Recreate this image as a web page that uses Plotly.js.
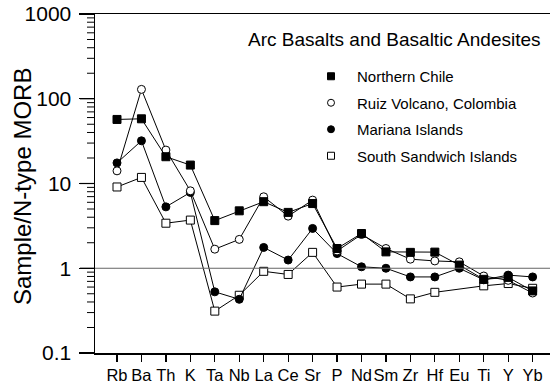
<!DOCTYPE html>
<html>
<head>
<meta charset="utf-8">
<script src="https://cdn.plot.ly/plotly-3.0.1.min.js"></script>
<style>
  html, body { margin: 0; padding: 0; background: #fff; }
  #chart { width: 550px; height: 384px; }
</style>
</head>
<body>
<div id="chart"></div>
<script>
// Elements (x-axis categories)
const elements = ['Rb','Ba','Th','K','Ta','Nb','La','Ce','Sr','P','Nd','Sm','Zr','Hf','Eu','Ti','Y','Yb'];

// Sample / N-type MORB values
const northernChile = [57, 58, 20.7, 16.5, 3.65, 4.76, 6.1, 4.56, 5.8, 1.71, 2.57, 1.56, 1.54, 1.55, 1.09, 0.74, 0.78, 0.54];
const ruizColombia  = [14.1, 129, 24.8, 8.2, 1.68, 2.19, 6.97, 4.12, 6.37, 1.6, 2.5, 1.71, 1.28, 1.22, 1.19, 0.81, 0.72, 0.51];
const marianaIslands = [17.5, 31.9, 5.3, 7.85, 0.527, 0.43, 1.76, 1.25, 2.95, 1.49, 1.04, 1.0, 0.79, 0.79, 1.0, 0.73, 0.83, 0.79];
const southSandwich = [9.1, 11.8, 3.4, 3.7, 0.312, 0.48, 0.92, 0.845, 1.54, 0.60, 0.65, 0.65, 0.435, 0.52, null, 0.62, 0.66, 0.58];

const seriesNames = ['Northern Chile', 'Ruiz Volcano, Colombia', 'Mariana Islands', 'South Sandwich Islands'];

// y-axis tick labels
const yTickVals = [0.1, 1, 10, 100, 1000];
const yTickText = ['0.1', '1', '10', '100', '1000'];

const FONT = 'Liberation Sans, Arial, Helvetica, sans-serif';
const PLOT_W = 455;
const Y_RANGE = [-1, 3];

// minor tick values (2..9 within each decade)
const yMinorVals = [];
for (let d = 0; d < yTickVals.length - 1; d++) {
  for (let m = 2; m <= 9; m++) yMinorVals.push(yTickVals[d] * m);
}

const styles = [
  {symbol: 'square', color: '#000', line: '#000'},
  {symbol: 'circle', color: '#fff', line: '#000'},
  {symbol: 'circle', color: '#000', line: '#000'},
  {symbol: 'square', color: '#fff', line: '#000'}
];
const dataSets = [northernChile, ruizColombia, marianaIslands, southSandwich];

const traces = [];
// draw order: bottom series first
[3, 2, 1, 0].forEach(i => {
  traces.push({
    x: elements, y: dataSets[i], type: 'scatter', mode: 'lines+markers',
    connectgaps: true, showlegend: false, cliponaxis: false,
    line: {color: '#000', width: 1},
    marker: {symbol: styles[i].symbol, size: 8, color: styles[i].color,
             line: {color: styles[i].line, width: 1}}
  });
});
// legend-only entries (markers only)
[0, 1, 2, 3].forEach(i => {
  traces.push({
    x: [null], y: [null], type: 'scatter', mode: 'markers',
    name: seriesNames[i], legendgroup: 'g' + i, showlegend: true,
    marker: {symbol: styles[i].symbol, size: 7, color: styles[i].color,
             line: {color: styles[i].line, width: 1}}
  });
});

// axis decoration in paper space (tick marks) + reference line at 1
const toPaperY = v => (Math.log10(v) - Y_RANGE[0]) / (Y_RANGE[1] - Y_RANGE[0]);
const shapes = [
  {type: 'line', xref: 'paper', x0: 0, x1: 1, yref: 'y', y0: 1, y1: 1,
   line: {color: '#666', width: 1}}
];
yTickVals.forEach(v => {
  const p = toPaperY(v);
  shapes.push({type: 'line', xref: 'paper', x0: -15 / PLOT_W, x1: 0, yref: 'paper', y0: p, y1: p,
               line: {color: '#000', width: 1.2}});
});
yMinorVals.forEach(v => {
  const p = toPaperY(v);
  shapes.push({type: 'line', xref: 'paper', x0: -8 / PLOT_W, x1: 0, yref: 'paper', y0: p, y1: p,
               line: {color: '#000', width: 1}});
});

const layout = {
  width: 550, height: 384,
  margin: {l: 95, r: 0, t: 14, b: 31},
  paper_bgcolor: '#fff', plot_bgcolor: '#fff',
  font: {family: FONT, color: '#000'},
  showlegend: true,
  legend: {
    x: (305 - 95) / PLOT_W, y: (353 - 60) / 339, xanchor: 'left', yanchor: 'top',
    bgcolor: 'rgba(0,0,0,0)', borderwidth: 0,
    font: {family: FONT, size: 15, color: '#000'},
    itemwidth: 42, tracegroupgap: 4
  },
  xaxis: {
    type: 'category', range: [-0.9, 17.71],
    showgrid: false, zeroline: false,
    showline: true, linecolor: '#000', linewidth: 1.5, mirror: true,
    ticks: 'outside', ticklen: 7, tickwidth: 1.2, tickcolor: '#000',
    tickangle: 0, ticklabelstandoff: 0,
    tickfont: {family: FONT, size: 16.5, color: '#000'},
    fixedrange: true
  },
  yaxis: {
    type: 'log', range: Y_RANGE,
    showgrid: false, zeroline: false,
    showline: true, linecolor: '#000', linewidth: 1.5,
    tickmode: 'array', tickvals: yTickVals, ticktext: yTickText,
    ticks: 'outside', ticklen: 15, tickwidth: 1.2, tickcolor: '#000',
    ticklabelstandoff: 3,
    tickfont: {family: FONT, size: 21, color: '#000'},
    fixedrange: true
  },
  yaxis2: {
    type: 'log', range: Y_RANGE, overlaying: 'y', side: 'left', anchor: 'x',
    showgrid: false, zeroline: false, showline: false,
    tickmode: 'array', tickvals: yMinorVals, showticklabels: false,
    ticks: 'outside', ticklen: 8, tickwidth: 1, tickcolor: '#000',
    fixedrange: true
  },
  shapes: shapes,
  annotations: [
    {text: 'Sample/N-type MORB', xref: 'paper', yref: 'paper',
     x: (22 - 95) / PLOT_W, y: (353 - 187) / 339, xanchor: 'center', yanchor: 'middle',
     textangle: -90, showarrow: false, font: {family: FONT, size: 24, color: '#000'}},
    {text: 'Arc Basalts and Basaltic Andesites', xref: 'paper', yref: 'paper',
     x: (394.5 - 95) / PLOT_W, y: (353 - 40) / 339, xanchor: 'center', yanchor: 'middle',
     showarrow: false, font: {family: FONT, size: 19, color: '#000'}}
  ]
};

Plotly.newPlot('chart', traces, layout, {staticPlot: true, displayModeBar: false});
</script>
</body>
</html>
